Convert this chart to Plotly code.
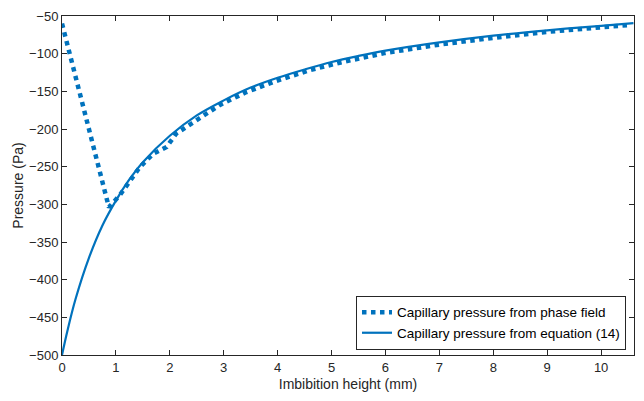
import plotly.graph_objects as go

# Capillary pressure from equation (14)
h_eq = [0, 0.1, 0.25, 0.5, 0.75, 1, 1.25, 1.5, 2, 2.5, 3, 3.5, 4, 4.5, 5, 5.5, 6, 7, 8, 9, 10, 10.6]
p_eq = [-500, -468, -426, -371, -328, -295, -267, -244, -209, -182, -162, -145, -132, -121, -111, -103, -96, -85, -76, -69, -63, -59.5]

# Capillary pressure from phase field
h_pf = [0, 0.87, 1.07, 1.26, 1.44, 1.69, 1.94, 2.12, 2.56, 2.93, 3.42, 3.98, 4.59, 5.15, 6, 7, 8, 9, 10, 10.52]
p_pf = [-60, -304, -288, -268, -251, -233, -224, -206, -185, -168, -151, -136, -122, -112, -99, -88, -79, -71, -65, -62]

x_ticks = [0, 1, 2, 3, 4, 5, 6, 7, 8, 9, 10]
y_ticks = [-500, -450, -400, -350, -300, -250, -200, -150, -100, -50]

blue = "#0072BD"
FONT = "Liberation Sans, Arial, Helvetica"
fig = go.Figure()
fig.add_trace(go.Scatter(x=h_pf, y=p_pf, mode="lines", name="Capillary pressure from phase field",
                         line=dict(color=blue, width=4.5, dash="dot")))
fig.add_trace(go.Scatter(x=h_eq, y=p_eq, mode="lines", name="Capillary pressure from equation (14)",
                         line=dict(color=blue, width=2.2, shape="spline")))

axis_common = dict(showgrid=False, zeroline=False, showline=True, linecolor="#262626", linewidth=1,
                   mirror="ticks", ticks="inside", ticklen=5, tickcolor="#262626",
                   tickfont=dict(family=FONT, size=13, color="#262626"))
fig.update_layout(
    width=644, height=401,
    margin=dict(l=62, r=9, t=12, b=46),
    paper_bgcolor="white", plot_bgcolor="white",
    xaxis=dict(range=[0, 10.61], tickvals=x_ticks, title=dict(text="Imbibition height (mm)", standoff=5,
               font=dict(family=FONT, size=14, color="#262626")), **axis_common),
    yaxis=dict(range=[-500, -50], tickvals=y_ticks, title=dict(text="Pressure (Pa)", standoff=2,
               font=dict(family=FONT, size=14, color="#262626")), **axis_common),
    legend=dict(x=0.986, y=0.015, xanchor="right", yanchor="bottom", bgcolor="white",
                bordercolor="#262626", borderwidth=1, tracegroupgap=0, itemwidth=30,
                font=dict(family=FONT, size=13.5, color="black")),
    showlegend=True,
)
fig.write_html("out.html")
